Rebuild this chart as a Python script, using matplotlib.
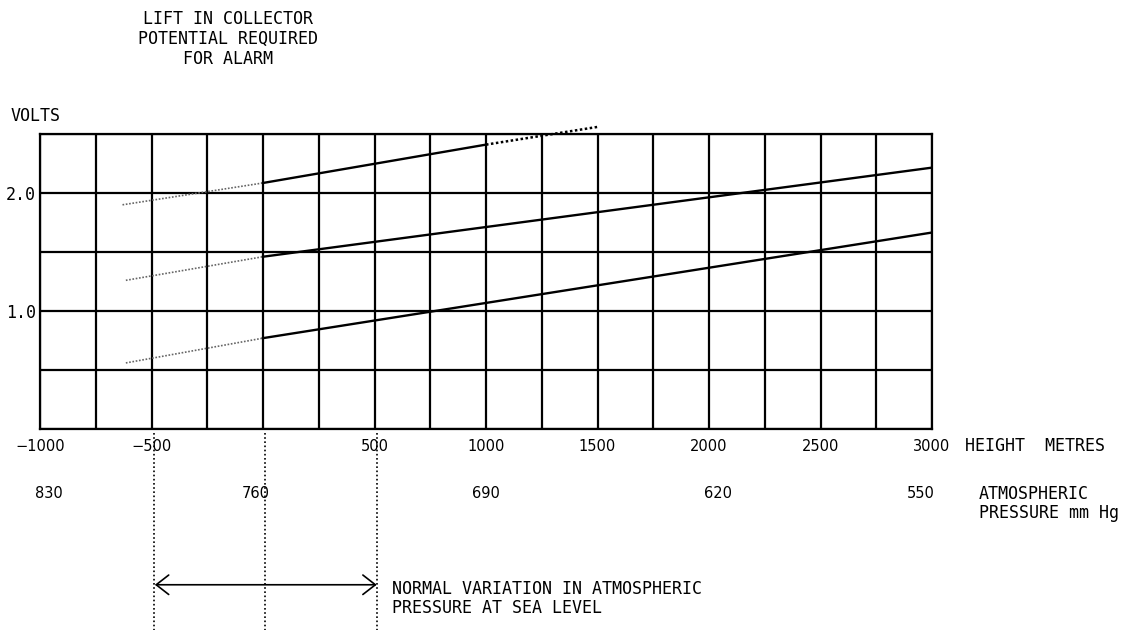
#Collector potential lift required for alarm vs height / atmospheric pressure

import numpy as np                  #numpy for tick arrays
import matplotlib
matplotlib.use("Agg")
import matplotlib.pyplot as plt     #matplotlib for the chart

MONO = "DejaVu Sans Mono"   #plotter-like lettering
NUM = "DejaVu Sans"         #numbers on the axes

#height axis labels (metres) and pressure labels (mm Hg)
height_labels = [-1000, -500, 500, 1000, 1500, 2000, 2500, 3000]
pressure_labels = ["830", "760", "690", "620", "550"]
pressure_pos = [-960, -31, 1000, 2040, 2950]

#volts axis labels
volt_labels = [1.0, 2.0]

#three alarm curves: dotted extrapolation, solid measured part
top_dot_x = [-630, 0]
top_dot_y = [1.90, 2.085]
top_x = [0, 1000]
top_y = [2.085, 2.41]
top_ext_x = [1000, 1500]
top_ext_y = [2.41, 2.56]

mid_dot_x = [-615, 0]
mid_dot_y = [1.26, 1.46]
mid_x = [0, 3000]
mid_y = [1.46, 2.215]

bot_dot_x = [-615, 0]
bot_dot_y = [0.56, 0.77]
bot_x = [0, 3000]
bot_y = [0.77, 1.665]

#normal variation of sea level pressure (heights)
sea_level_x = [-490, 10, 510]
arrow_x = [-485, 510]

fig = plt.figure(figsize=(11.43, 6.30), dpi=100)
ax = fig.add_axes([40 / 1143, 201 / 630, 892 / 1143, 295 / 630])

ax.set_xlim(-1000, 3000)
ax.set_ylim(0, 2.5)

#grid every 250 m and 0.5 V
xt = np.arange(-1000, 3001, 250)
ax.set_xticks(xt)
ax.set_xticklabels([str(v).replace("-", "\u2212") if v in height_labels else "" for v in xt],
                   fontfamily=NUM, fontsize=10.5)
yt = np.arange(0, 2.51, 0.5)
ax.set_yticks(yt)
ax.set_yticklabels(["%.1f" % v if round(v, 1) in volt_labels else "" for v in yt],
                   fontfamily=MONO, fontsize=12)
ax.tick_params(axis="both", length=0)
ax.tick_params(axis="x", pad=7)
ax.tick_params(axis="y", pad=3)
ax.grid(True, color="black", lw=1.6)
for s in ax.spines.values():
    s.set_linewidth(1.6)

#curves
dots = dict(color="#666666", lw=1.2, linestyle=(0, (1, 1)))
solid = dict(color="black", lw=1.7)
ax.plot(top_dot_x, top_dot_y, **dots)
ax.plot(top_x, top_y, **solid)
ax.plot(top_ext_x, top_ext_y, color="black", lw=1.8, linestyle=(0, (1, 1)), clip_on=False)
ax.plot(mid_dot_x, mid_dot_y, **dots)
ax.plot(mid_x, mid_y, **solid)
ax.plot(bot_dot_x, bot_dot_y, **dots)
ax.plot(bot_x, bot_y, **solid)

#vertical dotted markers below the chart
for xv in sea_level_x:
    ax.plot([xv, xv], [-0.03, -1.72], color="black", lw=1.2,
            linestyle=(0, (1, 1.5)), clip_on=False)

#double arrow
ax.annotate("", xy=(arrow_x[0], -1.32), xytext=(arrow_x[1], -1.32),
            arrowprops=dict(arrowstyle="<->,head_length=0.45,head_width=0.35",
                            lw=1.2, color="black", shrinkA=0, shrinkB=0,
                            mutation_scale=20),
            annotation_clip=False)
ax.text(580, -1.28, "NORMAL VARIATION IN ATMOSPHERIC\nPRESSURE AT SEA LEVEL",
        fontfamily=MONO, fontsize=12, va="top", ha="left", clip_on=False,
        linespacing=1.1)

#pressure row
for lab, xv in zip(pressure_labels, pressure_pos):
    ax.text(xv, -0.545, lab, fontfamily=NUM, fontsize=10.5,
            ha="center", va="center", clip_on=False)

#labels
fig.text(228 / 1143, 1 - 10 / 630, "LIFT IN COLLECTOR\nPOTENTIAL REQUIRED\nFOR ALARM",
         fontfamily=MONO, fontsize=12, ha="center", va="top", linespacing=1.15)
fig.text(11 / 1143, 1 - 116 / 630, "VOLTS", fontfamily=MONO, fontsize=12,
         ha="left", va="center")
fig.text(965 / 1143, 1 - 446 / 630, "HEIGHT  METRES", fontfamily=MONO, fontsize=12,
         ha="left", va="center")
fig.text(979 / 1143, 1 - 485 / 630, "ATMOSPHERIC\nPRESSURE mm Hg", fontfamily=MONO,
         fontsize=12, ha="left", va="top", linespacing=1.1)

fig.savefig("out.png", dpi=100)
